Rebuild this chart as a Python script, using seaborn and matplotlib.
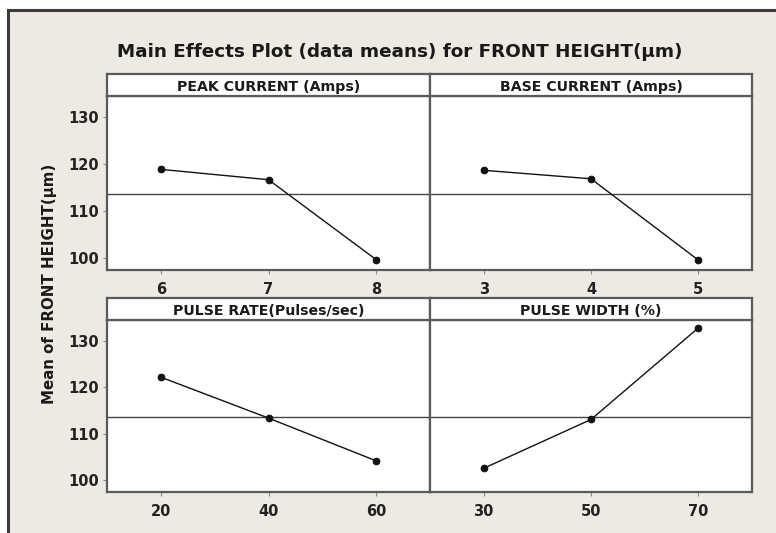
import matplotlib
matplotlib.use("Agg")
import matplotlib.pyplot as plt
from matplotlib.patches import Rectangle
import seaborn as sns
import numpy as np

sns.set_style("white")
plt.rcParams["font.family"] = ["DejaVu Sans"]
plt.rcParams["font.weight"] = "bold"

# Factor levels and mean responses
factor_names = ["PEAK CURRENT (Amps)", "BASE CURRENT (Amps)",
                "PULSE RATE(Pulses/sec)", "PULSE WIDTH (%)"]
peak_levels = [6, 7, 8]
peak_means = [118.9, 116.7, 99.7]
base_levels = [3, 4, 5]
base_means = [118.7, 116.9, 99.6]
rate_levels = [20, 40, 60]
rate_means = [122.2, 113.4, 104.2]
width_levels = [30, 50, 70]
width_means = [102.6, 113.1, 132.8]
grand_mean = 113.6
y_ticks = [100, 110, 120, 130]

W, H = 776, 533
fig = plt.figure(figsize=(W / 100, H / 100), dpi=100, facecolor="white")

bg = "#eeeae3"
frame = Rectangle((8 / W, -0.1), 1.2, (H - 10) / H + 0.1, transform=fig.transFigure,
                  facecolor=bg, edgecolor="#3c3c3c", lw=2.2, zorder=-10)
fig.patches.append(frame)

edge = "#5a5a5a"
cols = [(107, 430), (430, 752)]
rows = [(74, 96, 270), (298, 320, 492)]  # strip top, plot top, plot bottom (px from top)

panels = [
    (factor_names[0], peak_levels, peak_means, 0, 0),
    (factor_names[1], base_levels, base_means, 0, 1),
    (factor_names[2], rate_levels, rate_means, 1, 0),
    (factor_names[3], width_levels, width_means, 1, 1),
]

for name, lv, mv, r, c in panels:
    x0, x1 = cols[c]
    st, pt, pb = rows[r]
    ax = fig.add_axes([x0 / W, (H - pb) / H, (x1 - x0) / W, (pb - pt) / H])
    ax.set_facecolor("white")
    ax.axhline(grand_mean, color="#444444", lw=1.0, zorder=1)
    sns.lineplot(x=lv, y=mv, ax=ax, color="#111111", lw=1.0, marker="o",
                 markersize=4.8, markeredgecolor="#111111", zorder=3)
    step = lv[1] - lv[0]
    ax.set_xlim(lv[0] - step / 2, lv[-1] + step / 2)
    ax.set_ylim(97.5, 134.5)
    ax.set_xticks(lv)
    ax.set_xticklabels([str(v) for v in lv], fontsize=10.5, fontweight="bold", color="#222222")
    ax.set_yticks(y_ticks)
    if c == 0:
        ax.set_yticklabels([str(v) for v in y_ticks], fontsize=10.5, fontweight="bold",
                           color="#222222")
    else:
        ax.set_yticklabels([])
        ax.tick_params(axis="y", length=0)
    ax.tick_params(axis="both", direction="out", length=3, width=0.8, color="#888888",
                   pad=3, left=(c == 0), bottom=True)
    ax.tick_params(axis="x", pad=6)
    ax.set_xlabel("")
    ax.set_ylabel("")
    for s in ax.spines.values():
        s.set_color(edge)
        s.set_linewidth(1.6)

    # factor header strip
    sax = fig.add_axes([x0 / W, (H - pt) / H, (x1 - x0) / W, (pt - st) / H])
    sax.set_facecolor("white")
    sax.set_xticks([])
    sax.set_yticks([])
    for s in sax.spines.values():
        s.set_color(edge)
        s.set_linewidth(1.6)
    sax.text(0.5, 0.4, name, ha="center", va="center", fontsize=10.2,
             fontweight="bold", color="#1a1a1a", transform=sax.transAxes)

fig.text(400 / W, (H - 52) / H, "Main Effects Plot (data means) for FRONT HEIGHT(µm)",
         ha="center", va="center", fontsize=13.2, fontweight="bold", color="#1a1a1a")
fig.text(50 / W, (H - 284) / H, "Mean of FRONT HEIGHT(µm)", rotation=90,
         ha="center", va="center", fontsize=10.8, fontweight="bold", color="#1a1a1a")

fig.savefig("out.png", dpi=100, facecolor=fig.get_facecolor())
